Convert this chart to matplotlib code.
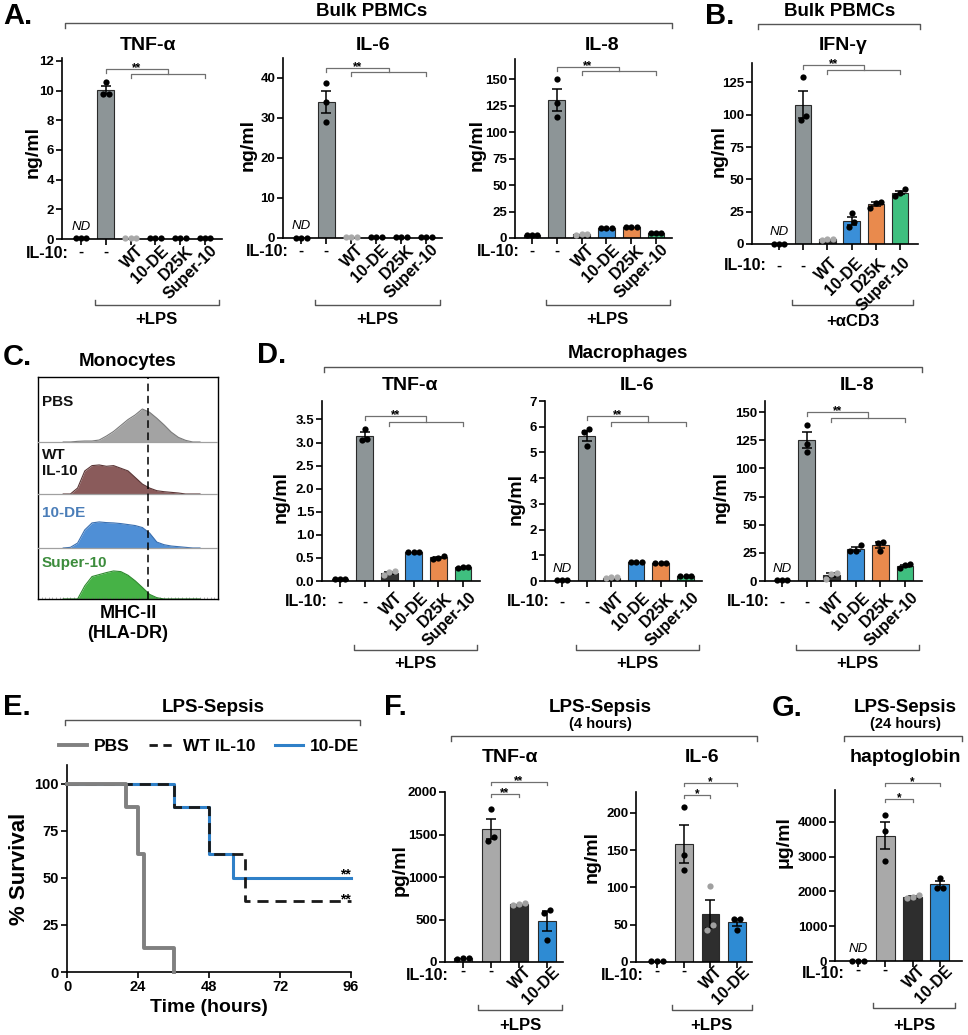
import numpy as np
import matplotlib
matplotlib.use('Agg')
import matplotlib.pyplot as plt
import matplotlib.transforms as mtransforms
from matplotlib.lines import Line2D
from matplotlib.ticker import FormatStrFormatter

W, H = 968, 1035

plt.rcParams['font.family'] = ['Liberation Sans', 'DejaVu Sans']
plt.rcParams['font.weight'] = 'bold'
plt.rcParams['axes.labelweight'] = 'bold'
plt.rcParams['axes.linewidth'] = 1.2
plt.rcParams['xtick.major.width'] = 1.2
plt.rcParams['ytick.major.width'] = 1.2
plt.rcParams['xtick.major.size'] = 4
plt.rcParams['ytick.major.size'] = 4

# ---------------- data ----------------
labels_full = ['-', '-', 'WT', '10-DE', 'D25K', 'Super-10']
labels_short = ['-', '-', 'WT', '10-DE']

# A. bulk PBMCs + LPS (ng/ml), 3 replicates per condition
a_tnf = [[0.05, 0.05, 0.05], [10.55, 9.75, 9.8], [0.08, 0.08, 0.08],
         [0.1, 0.1, 0.1], [0.1, 0.1, 0.1], [0.1, 0.1, 0.1]]
a_il6 = [[0.1, 0.1, 0.1], [38.8, 34.1, 29.1], [0.2, 0.2, 0.2],
         [0.3, 0.3, 0.3], [0.3, 0.3, 0.3], [0.2, 0.2, 0.2]]
a_il8 = [[2.5, 2.5, 2.5], [150, 127.6, 113.9], [3.8, 3.6, 3.2],
         [9.5, 9.5, 9.5], [10.2, 10.2, 10.2], [5.0, 5.0, 5.0]]
# B. bulk PBMCs + aCD3
b_ifng = [[0.2, 0.2, 0.2], [129, 98.8, 95.7], [4.0, 3.5, 3.0],
          [23.8, 13.4, 16.8], [32.8, 27.7, 31.8], [42.5, 37.5, 39.5]]
# D. macrophages + LPS
d_tnf = [[0.05, 0.05, 0.05], [3.3, 3.05, 3.07], [0.21, 0.2, 0.12],
         [0.62, 0.62, 0.62], [0.55, 0.48, 0.5], [0.3, 0.3, 0.29]]
d_il6 = [[0.05, 0.05, 0.05], [5.9, 5.8, 5.25], [0.15, 0.15, 0.1],
         [0.75, 0.75, 0.75], [0.7, 0.7, 0.7], [0.2, 0.2, 0.2]]
d_il8 = [[0.5, 0.5, 0.5], [139, 122, 115], [7.5, 6.0, 2.0],
         [32, 27, 26.5], [35, 34, 27], [15, 14, 12]]

# C. MHC-II histograms (relative counts)
hist_x = [14, 18, 22, 26, 30, 34, 38, 42, 46, 50, 54, 58, 62, 66, 70, 74, 78, 82, 86, 90]
hist_pbs = [0, 0, 2, 3, 3, 6, 18, 32, 50, 68, 82, 100, 90, 72, 52, 30, 14, 5, 0, 0]
hist_wt = [0, 0, 18, 70, 86, 88, 84, 86, 78, 70, 50, 30, 18, 10, 7, 5, 3, 0, 0, 0]
hist_de = [0, 2, 15, 55, 76, 79, 77, 76, 74, 71, 68, 62, 45, 18, 10, 6, 4, 2, 0, 0]
hist_s10 = [0, 0, 0, 40, 68, 74, 80, 85, 83, 72, 55, 35, 14, 4, 0, 0, 0, 0, 0, 0]
hist_names = ['PBS', 'WT\nIL-10', '10-DE', 'Super-10']

# E. survival (%)
pbs_t = [0, 20, 24, 26, 36]
pbs_s = [100, 87.5, 62.5, 12.5, 0]
wt_t = [0, 36, 48, 60, 96]
wt_s = [100, 87.5, 62.5, 37.5, 37.5]
de_t = [0, 36, 48, 56, 96]
de_s = [100, 87.5, 62.5, 50, 50]

# F. serum cytokines 4 h
f_tnf = [[45, 45, 40], [1796, 1474, 1427], [690, 680, 670], [610, 580, 255]]
f_il6 = [[2, 2, 2], [208, 144, 124], [102, 43, 49], [58, 58, 43]]
# G. haptoglobin 24 h (ug/ml)
g_hapto = [[0, 0, 0], [4200, 3750, 2870], [1900, 1850, 1800], [2390, 2110, 2110]]

# ---------------- styles ----------------
GRAY = '#8d9597'
bar_cols6 = [GRAY, GRAY, '#333333', '#3a8fd8', '#e98a4d', '#3fbf7f']
dot_cols6 = ['k', 'k', '#a9a9a9', 'k', 'k', 'k']
bar_cols4 = ['#a9a9a9', '#a9a9a9', '#2e2e2e', '#2e8bd3']
dot_cols4 = ['k', 'k', '#a0a0a0', 'k']

fig = plt.figure(figsize=(W / 100, H / 100), dpi=100)
PIX = mtransforms.Affine2D().scale(1, -1).translate(0, H)


def ftext(x, y, s, **kw):
    kw.setdefault('ha', 'center')
    kw.setdefault('va', 'center')
    fig.text(x, y, s, transform=PIX, **kw)


def fline(xs, ys, **kw):
    kw.setdefault('color', '#555555')
    kw.setdefault('lw', 1)
    fig.add_artist(Line2D(xs, ys, transform=PIX, **kw))


def header(x0, x1, y, title, tx, ty):
    fline([x0, x0, x1, x1], [y + 5, y, y, y + 5])
    ftext(tx, ty, title, fontsize=13.5)


def spread(pts, ymax, step=0.22):
    order = np.argsort(pts)
    offs = np.zeros(len(pts))
    thr = 0.035 * ymax
    clusters = [[order[0]]]
    for k in order[1:]:
        if pts[k] - pts[clusters[-1][-1]] < thr:
            clusters[-1].append(k)
        else:
            clusters.append([k])
    for cl in clusters:
        n = len(cl)
        for j, k in enumerate(cl):
            offs[k] = (j - (n - 1) / 2) * step
    return offs


def bar_panel(box, groups, labels, ymax, yticks, colors, dotcols, ylab, ylab_xy,
              title, title_xy, nd=False, width=0.68, tfmt=None, dy=(14, 13, 4), rotx=5):
    x0, x1, yt, yb, c0, sp = box
    ax = fig.add_axes([x0 / W, 1 - yb / H, (x1 - x0) / W, (yb - yt) / H])
    ax.set_xlim(-(c0 - x0) / sp, (x1 - c0) / sp)
    ax.set_ylim(0, ymax)
    for i, pts in enumerate(groups):
        pts = np.asarray(pts, float)
        m = pts.mean()
        se = pts.std(ddof=1) / np.sqrt(len(pts))
        ax.bar(i, m, width, color=colors[i], edgecolor='#2a2a2a', lw=0.8, zorder=2)
        if se > ymax * 0.004:
            ax.errorbar(i, m, yerr=se, fmt='none', ecolor='k', elinewidth=1.1,
                        capsize=3.5, capthick=1.1, zorder=3)
        ax.plot(i + spread(pts, ymax), pts, 'o', ms=4.5, color=dotcols[i], mec='none',
                zorder=4, clip_on=False)
    ax.spines[['top', 'right']].set_visible(False)
    ax.set_yticks(yticks)
    if tfmt:
        ax.yaxis.set_major_formatter(FormatStrFormatter(tfmt))
    ax.tick_params(axis='y', labelsize=9.5, pad=1.5)
    ax.set_xticks(range(len(groups)))
    ax.set_xticklabels([])
    T = mtransforms.blended_transform_factory(ax.transData, PIX)
    Tlab = mtransforms.offset_copy(T, fig=fig, x=rotx, y=0, units='dots')
    d_il10, d_dash, d_rot = dy
    for i, lab in enumerate(labels):
        if lab == '-':
            ax.text(i, yb + d_dash, '-', transform=T, ha='center', va='center', fontsize=11)
        else:
            ax.text(i, yb + d_rot, lab, transform=Tlab, ha='right', va='top', rotation=45,
                    rotation_mode='anchor', fontsize=11.5)
    ax.text(-0.5, yb + d_il10, 'IL-10:', transform=T, ha='right', va='center', fontsize=11.5)
    if nd:
        ax.text(0, yb - 12, 'ND', transform=T, ha='center', va='center', fontsize=9.5,
                style='italic', weight='normal')
    ftext(ylab_xy[0], ylab_xy[1], ylab, rotation=90, fontsize=14)
    ftext(title_xy[0], title_xy[1], title, fontsize=14)
    return ax, T


def sig_nested(ax, T, ytop, ylow, stars='**'):
    kw = dict(transform=T, color='#707070', lw=0.9, clip_on=False)
    ax.plot([1, 1, 3.5, 3.5], [ytop + 4, ytop, ytop, ylow], **kw)
    ax.plot([2, 2, 5, 5], [ylow + 4, ylow, ylow, ylow + 4], **kw)
    ax.text(2.25, ytop + 2, stars, transform=T, ha='center', va='baseline', fontsize=8.5)


def sig_pair(ax, T, ylow, yup, stars):
    kw = dict(transform=T, color='#707070', lw=0.9, clip_on=False)
    ax.plot([1, 1, 2, 2], [ylow + 3, ylow, ylow, ylow + 3], **kw)
    ax.plot([1, 1, 3, 3], [yup + 3, yup, yup, yup + 3], **kw)
    ax.text(1.5, ylow + 2, stars, transform=T, ha='center', va='baseline', fontsize=8.5)
    ax.text(2.0, yup + 2, stars, transform=T, ha='center', va='baseline', fontsize=8.5)


def cond(ax, T, n, y, ty, text):
    xl, xr = 0.55, n - 1 + 0.55
    ax.plot([xl, xl, xr, xr], [y - 5, y, y, y - 5], transform=T, color='#555555',
            lw=1, clip_on=False)
    ax.text((xl + xr) / 2, ty, text, transform=T, ha='center', va='center', fontsize=12)


# ---------------- A ----------------
ftext(18, 16, 'A.', fontsize=21)
header(65, 672, 23, 'Bulk PBMCs', 372, 11)
ax, T = bar_panel((62, 222, 58, 239, 81, 24.8), a_tnf, labels_full, 12.2, range(0, 13, 2),
                  bar_cols6, dot_cols6, 'ng/ml', (33, 152), 'TNF-α', (148, 45), nd=True)
sig_nested(ax, T, 69, 74)
cond(ax, T, 6, 305, 319, '+LPS')
ax, T = bar_panel((283, 442, 58, 238, 301, 25), a_il6, labels_full, 45, range(0, 41, 10),
                  bar_cols6, dot_cols6, 'ng/ml', (248, 145), 'IL-6', (373, 45), nd=True)
sig_nested(ax, T, 68, 72)
cond(ax, T, 6, 305, 319, '+LPS')
ax, T = bar_panel((515, 672, 59, 238, 532, 24.8), a_il8, labels_full, 169, range(0, 151, 25),
                  bar_cols6, dot_cols6, 'ng/ml', (477, 145), 'IL-8', (602, 45))
sig_nested(ax, T, 67, 71)
cond(ax, T, 6, 305, 319, '+LPS')

# ---------------- B ----------------
ftext(720, 16, 'B.', fontsize=21)
header(758, 920, 24, 'Bulk PBMCs', 840, 11)
ax, T = bar_panel((752, 918, 63, 244, 779, 24.2), b_ifng, labels_full, 140, range(0, 126, 25),
                  bar_cols6, dot_cols6, 'ng/ml', (719, 151), 'IFN-γ', (843, 45), nd=True,
                  dy=(22, 22, 11), rotx=3)
sig_nested(ax, T, 65, 70)
cond(ax, T, 6, 305, 321, '+αCD3')

# ---------------- C ----------------
ftext(17, 357, 'C.', fontsize=21)
ftext(128, 362, 'Monocytes', fontsize=13.5)
axc = fig.add_axes([38 / W, 1 - 599 / H, 180 / W, 222 / H])
axc.set_xlim(0, 100)
axc.set_ylim(0, 222)
bases = [157, 105, 51, 0]
fills = ['#a3a3a3', '#8a5b5b', '#4f8fd6', '#46b246']
edges = ['#7a7a7a', '#5a3535', '#3a6fb0', '#2f8a2f']
name_cols = ['#111111', '#111111', '#4a7db8', '#3c8c3c']
name_y = [402, 463, 513, 563]
for base, vals, fc, ec in zip(bases, [hist_pbs, hist_wt, hist_de, hist_s10], fills, edges):
    top = base + np.asarray(vals) * 0.33
    axc.fill_between(hist_x, base, top, color=fc, lw=0, zorder=1)
    axc.plot(hist_x, top, color=ec, lw=0.8, zorder=2)
for b in bases[:-1]:
    axc.axhline(b, color='#a0a0a0', lw=0.9, zorder=3)
axc.axvline(61, color='k', lw=1.1, dashes=(5, 3), zorder=4)
axc.set_xticks([])
axc.set_yticks([])
axc.set_xticks(np.arange(2, 100, 2), minor=True)
axc.tick_params(axis='x', which='minor', direction='in', length=1.5, width=0.4, color='#777777')
for s in axc.spines.values():
    s.set_linewidth(1)
for name, c, y in zip(hist_names, name_cols, name_y):
    ftext(42, y, name, ha='left', fontsize=11, color=c, linespacing=1.1)
ftext(128, 613, 'MHC-II', fontsize=13)
ftext(128, 633, '(HLA-DR)', fontsize=13)

# ---------------- D ----------------
ftext(272, 355, 'D.', fontsize=21)
header(324, 922, 367, 'Macrophages', 628, 353)
ax, T = bar_panel((322, 480, 401, 581, 340, 24.6), d_tnf, labels_full, 3.9,
                  np.arange(0, 3.6, 0.5), bar_cols6, dot_cols6, 'ng/ml', (281, 497), 'TNF-α',
                  (410, 385), tfmt='%.1f', dy=(21, 21, 9), rotx=6)
sig_nested(ax, T, 416, 422)
cond(ax, T, 6, 650, 663, '+LPS')
ax, T = bar_panel((545, 702, 401, 581, 562, 24.7), d_il6, labels_full, 7, range(0, 8),
                  bar_cols6, dot_cols6, 'ng/ml', (516, 499), 'IL-6', (637, 385), nd=True,
                  dy=(21, 21, 9), rotx=6)
sig_nested(ax, T, 416, 422)
cond(ax, T, 6, 650, 663, '+LPS')
ax, T = bar_panel((765, 922, 401, 581, 782, 24.6), d_il8, labels_full, 160, range(0, 151, 25),
                  bar_cols6, dot_cols6, 'ng/ml', (721, 497), 'IL-8', (857, 385), nd=True,
                  dy=(21, 21, 9), rotx=6)
sig_nested(ax, T, 412, 418)
cond(ax, T, 6, 650, 663, '+LPS')

# ---------------- E ----------------
ftext(17, 707, 'E.', fontsize=21)
header(65, 360, 720, 'LPS-Sepsis', 213, 707)
axe = fig.add_axes([67 / W, 1 - 972 / H, 284 / W, 207 / H])
axe.step(de_t, de_s, where='post', color='#2f80c8', lw=2.2, zorder=2, clip_on=False)
axe.step(wt_t, wt_s, where='post', color='#1a1a1a', lw=2, dashes=(4, 2.5), zorder=3,
         clip_on=False)
axe.step(pbs_t, pbs_s, where='post', color='#808080', lw=2.8, zorder=4, clip_on=False)
axe.set_xlim(0, 96)
axe.set_ylim(0, 110)
axe.set_xticks([0, 24, 48, 72, 96])
axe.set_yticks([0, 25, 50, 75, 100])
axe.spines[['top', 'right']].set_visible(False)
axe.tick_params(labelsize=10.5, pad=2)
axe.set_xlabel('Time (hours)', fontsize=14, fontweight='bold', labelpad=3)
ftext(20, 869, '% Survival', rotation=90, fontsize=16)
axe.text(94, 49.5, '**', ha='center', va='baseline', fontsize=10)
axe.text(94, 36.5, '**', ha='center', va='baseline', fontsize=10)
handles = [Line2D([], [], color='#808080', lw=2.8),
           Line2D([], [], color='#1a1a1a', lw=2, dashes=(3, 2)),
           Line2D([], [], color='#2f80c8', lw=2.2)]
axe.legend(handles, ['PBS', 'WT IL-10', '10-DE'], ncol=3, loc='center',
           bbox_to_anchor=(0.5, (972 - 746) / 207), frameon=False, fontsize=12.5,
           handlelength=1.6, columnspacing=1.1, handletextpad=0.4)

# ---------------- F ----------------
ftext(395, 707, 'F.', fontsize=21)
fline([451, 451, 757, 757], [741, 736, 736, 741])
ftext(600, 707, 'LPS-Sepsis', fontsize=13.5)
ftext(600, 724, '(4 hours)', fontsize=10.5)
ax, T = bar_panel((445, 563, 792, 962, 463, 28), f_tnf, labels_short, 2000,
                  range(0, 2001, 500), bar_cols4, dot_cols4, 'pg/ml', (400, 870), 'TNF-α',
                  (510, 757), width=0.64, dy=(13, 9, 2), rotx=5)
sig_pair(ax, T, 794, 782, '**')
cond(ax, T, 4, 1010, 1025, '+LPS')
ax, T = bar_panel((636, 752, 792, 962, 657, 26.7), f_il6, labels_short, 228,
                  range(0, 201, 50), bar_cols4, dot_cols4, 'ng/ml', (592, 857), 'IL-6',
                  (702, 757), width=0.66, dy=(13, 9, 2), rotx=5)
sig_pair(ax, T, 795, 783, '*')
cond(ax, T, 4, 1010, 1025, '+LPS')

# ---------------- G ----------------
ftext(787, 708, 'G.', fontsize=21)
fline([844, 844, 962, 962], [741, 736, 736, 741])
ftext(905, 707, 'LPS-Sepsis', fontsize=13.5)
ftext(905, 724, '(24 hours)', fontsize=10.5)
ax, T = bar_panel((835, 962, 790, 961, 858, 27.3), g_hapto, labels_short, 4920,
                  range(0, 4001, 1000), bar_cols4, dot_cols4, 'μg/ml', (784, 842), 'haptoglobin',
                  (905, 758), nd=True, width=0.7, dy=(13, 9, 2), rotx=5)
sig_pair(ax, T, 799, 783, '*')
cond(ax, T, 4, 1008, 1025, '+LPS')

fig.savefig('out.png', dpi=100)
